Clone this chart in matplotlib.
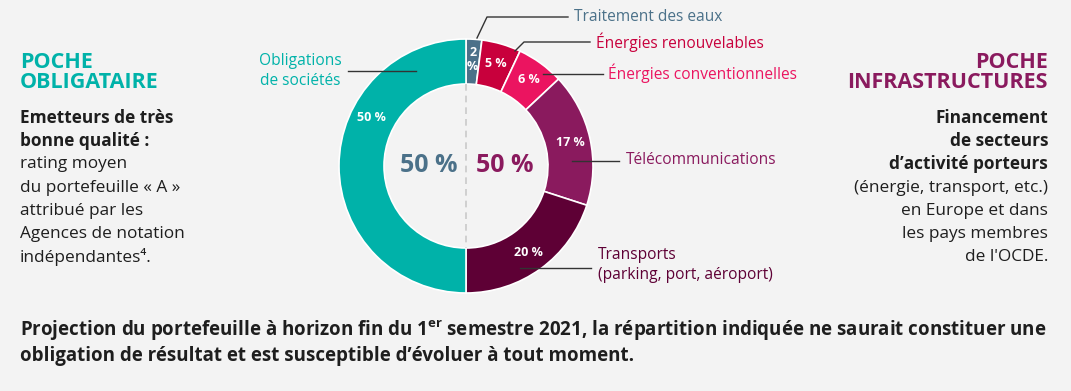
import numpy as np
import matplotlib.pyplot as plt

plt.rcParams['font.family'] = ['Open Sans', 'DejaVu Sans']
plt.rcParams['mathtext.fontset'] = 'custom'
plt.rcParams['mathtext.rm'] = 'Open Sans:bold'

# data (clockwise from the top)
segments = ['Traitement des eaux', 'Énergies renouvelables', 'Énergies conventionnelles',
            'Télécommunications', 'Transports\n(parking, port, aéroport)', 'Obligations\nde sociétés']
values = [2, 5, 6, 17, 20, 50]
pct_labels = ['2\n%', '5 %', '6 %', '17 %', '20 %', '50 %']
colors = ['#4b7189', '#c8003c', '#eb1460', '#8a1a5e', '#5e0035', '#00b2a9']
pocket_share = ['50 %', '50 %']

W, H = 1071, 391
bg = '#f3f3f3'
dark = '#1e1e1e'

fig = plt.figure(figsize=(W / 100, H / 100), dpi=100, facecolor=bg)
ax = fig.add_axes([0, 0, 1, 1])
ax.set_xlim(0, W)
ax.set_ylim(0, H)
ax.set_aspect('equal')
ax.axis('off')
ax.set_facecolor(bg)


def Y(y):
    return H - y


cx, cy = 466, Y(166)
R, r_in = 127, 82

ax.pie(values, colors=colors, startangle=90, counterclock=False, radius=R, center=(cx, cy),
       wedgeprops=dict(width=R - r_in, edgecolor='white', linewidth=1.2))
ax.set_xlim(0, W)
ax.set_ylim(0, H)

# dashed split line in the hole
ax.plot([cx, cx], [cy + r_in, cy - r_in], color='#c9c9c9', lw=1.2, ls=(0, (4, 3)))

# slice percentages
cum = np.cumsum([0] + values[:-1])
mid_r = (R + r_in) / 2 + 2
for i, (v, lab) in enumerate(zip(values, pct_labels)):
    frac = (cum[i] + v / 2) / 100
    if i == 5:
        frac = 0.825  # label sits in upper left of the teal half
    ang = np.pi / 2 - 2 * np.pi * frac
    ax.text(cx + mid_r * np.cos(ang), cy + mid_r * np.sin(ang), lab, color='white',
            fontsize=9, fontweight='bold', ha='center', va='center', linespacing=1.1)

# center figures
ax.text(cx - 8, cy, pocket_share[0], color=colors[0], fontsize=18, fontweight='bold',
        ha='right', va='center')
ax.text(cx + 10, cy, pocket_share[1], color=colors[3], fontsize=18, fontweight='bold',
        ha='left', va='center')

# leader lines + names
leaders = [
    ([(477, 38), (487, 17), (568, 17)], (574, 17), 'left'),
    ([(515, 51), (524, 42), (590, 42)], (596, 42), 'left'),
    ([(543, 74), (603, 74)], (608, 73), 'left'),
    ([(572, 161), (619, 161)], (626, 160), 'left'),
    ([(520, 268), (591, 268)], (598, 265), 'left'),
    ([(416, 71), (348, 71)], (300, 71), 'center'),
]
for i, (pts, (tx, ty), ha) in enumerate(leaders):
    xs = [p[0] for p in pts]
    ys = [Y(p[1]) for p in pts]
    ax.plot(xs, ys, color='#333333', lw=1)
    ax.text(tx, Y(ty), segments[i], color=colors[i], fontsize=11.2, ha=ha, va='center',
            linespacing=1.3)

# left block
ax.text(20, Y(62), 'POCHE', color=colors[5], fontsize=15.5, fontweight='bold', va='center')
ax.text(20, Y(82), 'OBLIGATAIRE', color=colors[5], fontsize=15.5, fontweight='bold', va='center')
left_lines = [('Emetteurs de très', 'bold'), ('bonne qualité :', 'bold'),
              ('rating moyen', 'normal'), ('du portefeuille « A »', 'normal'),
              ('attribué par les', 'normal'), ('Agences de notation', 'normal'),
              ('indépendantes⁴.', 'normal')]
for k, (t, w) in enumerate(left_lines):
    ax.text(20, Y(118 + k * 23.2), t, color=dark, fontsize=12.4, fontweight=w, va='center')

# right block
ax.text(1048, Y(62), 'POCHE', color=colors[3], fontsize=15.5, fontweight='bold',
        va='center', ha='right')
ax.text(1048, Y(82), 'INFRASTRUCTURES', color=colors[3], fontsize=15.5, fontweight='bold',
        va='center', ha='right')
right_lines = [('Financement', 'bold'), ('de secteurs', 'bold'),
               ('d’activité porteurs', 'bold'), ('(énergie, transport, etc.)', 'normal'),
               ('en Europe et dans', 'normal'), ('les pays membres', 'normal'),
               ("de l'OCDE.", 'normal')]
for k, (t, w) in enumerate(right_lines):
    ax.text(1048, Y(118 + k * 23.2), t, color=dark, fontsize=12.4, fontweight=w,
            va='center', ha='right')

# footnote
ax.text(20, Y(331), r'Projection du portefeuille à horizon fin du 1$^{\mathrm{er}}$ semestre 2021, '
        'la répartition indiquée ne saurait constituer une', color=dark, fontsize=13.5,
        fontweight='bold', va='center')
ax.text(20, Y(356), 'obligation de résultat et est susceptible d’évoluer à tout moment.',
        color=dark, fontsize=13.5, fontweight='bold', va='center')

fig.savefig('out.png', dpi=100, facecolor=bg)
